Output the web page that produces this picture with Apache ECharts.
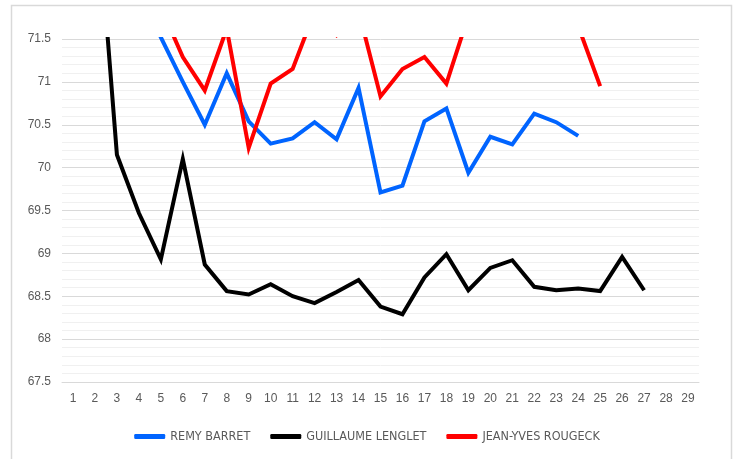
<!DOCTYPE html>
<html>
<head>
<meta charset="utf-8">
<script src="https://cdn.jsdelivr.net/npm/echarts@6/dist/echarts.min.js"></script>
<style>
  html, body { margin: 0; padding: 0; background: #fff; }
  #chart { width: 734px; height: 459px; }
</style>
</head>
<body>
<div id="chart"></div>
<script>
// categories (x axis)
const days = ['1','2','3','4','5','6','7','8','9','10','11','12','13','14','15',
  '16','17','18','19','20','21','22','23','24','25','26','27','28','29'];

// series values (points above 71.5 are clipped)
const remyBarret = [72.9, 72.6, 72.2, 72.0, 71.52, 71.0, 70.50, 71.10, 70.54, 70.28,
  70.34, 70.53, 70.33, 70.93, 69.71, 69.79, 70.54, 70.69, 69.94, 70.36,
  70.27, 70.63, 70.53, 70.37, null, null, null, null, null];
const guillaumeLenglet = [74.2, 73.4, 70.15, 69.47, 68.93, 70.10, 68.87, 68.56, 68.52, 68.64,
  68.50, 68.42, 68.55, 68.69, 68.38, 68.29, 68.72, 68.99, 68.57, 68.83,
  68.92, 68.61, 68.57, 68.59, 68.56, 68.96, 68.57, null, null];
const jeanYvesRougeck = [73.0, 72.7, 72.4, 72.1, 71.87, 71.29, 70.90, 71.62, 70.23, 70.98,
  71.15, 71.82, 71.545, 71.83, 70.83, 71.15, 71.29, 70.98, 71.77, 72.0,
  72.1, 71.9, 71.8, 71.65, 70.95, null, null, null, null];

const seriesNames = ['REMY BARRET', 'GUILLAUME LENGLET', 'JEAN-YVES ROUGECK'];
const seriesColors = ['#0064ff', '#000000', '#ff0000'];

let chart = echarts.init(document.getElementById('chart'));

function lineSeries(name, data, color) {
  return {
    name: name,
    type: 'line',
    data: data,
    symbol: 'none',
    clip: true,
    connectNulls: false,
    lineStyle: { color: color, width: 4, join: 'miter' },
    itemStyle: { color: color }
  };
}

let option = {
  animation: false,
  textStyle: { fontFamily: "'Liberation Sans', Arial, sans-serif" },
  graphic: [{
    type: 'rect',
    shape: { x: 11.5, y: 5.5, width: 720, height: 470 },
    style: { fill: 'none', stroke: '#d9d9d9', lineWidth: 1.5 },
    silent: true
  }],
  grid: { left: 62, right: 35, top: 39, bottom: 77 },
  legend: {
    bottom: 11,
    left: 'center',
    icon: 'roundRect',
    itemWidth: 31,
    itemHeight: 5,
    itemGap: 20,
    textStyle: {
      color: '#595959',
      fontSize: 12.5,
      fontFamily: "'Liberation Sans Narrow', 'DejaVu Sans Condensed', sans-serif"
    },
    data: seriesNames
  },
  xAxis: {
    type: 'category',
    data: days,
    boundaryGap: true,
    axisLine: { show: true, lineStyle: { color: '#d9d9d9' } },
    axisTick: { show: false },
    axisLabel: { color: '#595959', fontSize: 12, margin: 11 }
  },
  yAxis: {
    type: 'value',
    min: 67.5,
    max: 71.5,
    interval: 0.5,
    axisLine: { show: false },
    axisTick: { show: false },
    axisLabel: { color: '#595959', fontSize: 12, margin: 11 },
    splitLine: { lineStyle: { color: '#d9d9d9', width: 1 } },
    minorTick: { show: false, splitNumber: 5 },
    minorSplitLine: { show: true, lineStyle: { color: '#f0f0f0', width: 1 } }
  },
  series: [
    lineSeries(seriesNames[0], remyBarret, seriesColors[0]),
    lineSeries(seriesNames[1], guillaumeLenglet, seriesColors[1]),
    lineSeries(seriesNames[2], jeanYvesRougeck, seriesColors[2])
  ]
};

chart.setOption(option);
</script>
</body>
</html>
